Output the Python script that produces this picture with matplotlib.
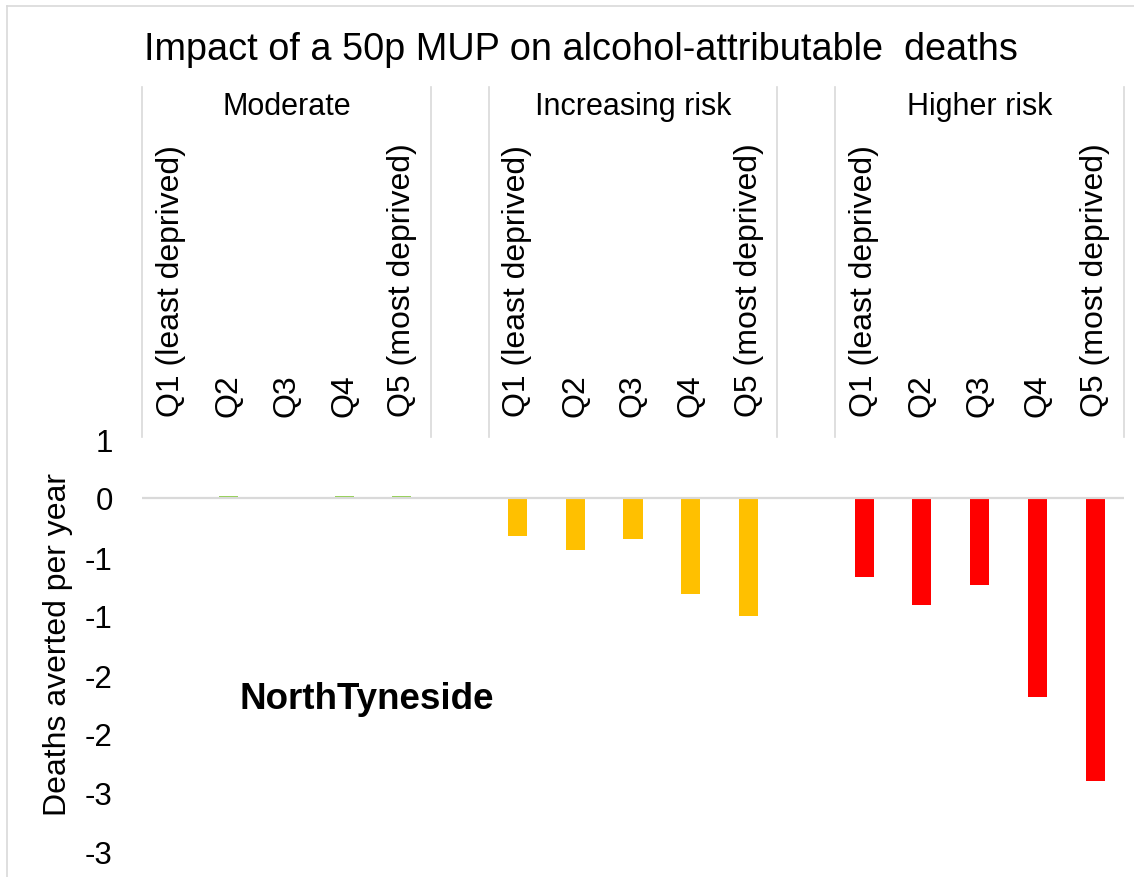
import numpy as np
import matplotlib
matplotlib.use("Agg")
import matplotlib.pyplot as plt
from matplotlib.lines import Line2D
from matplotlib.ticker import FuncFormatter
from matplotlib.transforms import blended_transform_factory

plt.rcParams['font.family'] = ['Liberation Sans', 'DejaVu Sans']

# data
groups = ["Moderate", "Increasing risk", "Higher risk"]
quintiles = ["Q1 (least deprived)", "Q2", "Q3", "Q4", "Q5 (most deprived)"]
moderate = [0.003, 0.02, 0.003, 0.02, 0.02]
increasing = [-0.32, -0.44, -0.35, -0.81, -1.00]
higher = [-0.67, -0.91, -0.74, -1.69, -2.40]
colors = ["#92D050", "#FFC000", "#FF0000"]
yticks = [0.5, 0, -0.5, -1, -1.5, -2, -2.5, -3]

W, H = 1134, 878
fig = plt.figure(figsize=(W / 100, H / 100), dpi=100)

def fx(px):
    return px / W

def fy(py):
    return 1 - py / H

# plot area
ax = fig.add_axes([fx(142), fy(853), fx(1124) - fx(142), fy(440) - fy(853)])
series = [moderate, increasing, higher]
for g, vals in enumerate(series):
    xs = np.arange(5) + g * 6
    ax.bar(xs, vals, width=0.33, color=colors[g], zorder=2)

ax.axhline(0, color="#d9d9d9", lw=1.6, zorder=3)
ax.set_xlim(-0.5, 16.5)
ax.set_ylim(-3, 0.5)
for s in ax.spines.values():
    s.set_visible(False)
ax.set_xticks([])
ax.set_yticks(yticks)
# excel style "0" format, half away from zero
ax.yaxis.set_major_formatter(FuncFormatter(lambda v, p: str(int(np.sign(v) * np.floor(abs(v) + 0.5)))))
ax.tick_params(axis='y', length=0, pad=21, labelsize=22.5)

# category labels above the plot
trans = blended_transform_factory(ax.transData, fig.transFigure)
for g in range(3):
    for q in range(5):
        ax.text(g * 6 + q, fy(417), quintiles[q], rotation=90, ha='center', va='bottom',
                fontsize=23, transform=trans, clip_on=False)
    ax.text(g * 6 + 2, fy(107), groups[g], ha='center', va='center', fontsize=22,
            transform=trans, clip_on=False)

for xb in [-0.5, 4.5, 5.5, 10.5, 11.5, 16.5]:
    ax.plot([xb, xb], [fy(88), fy(438)], color="#d9d9d9", lw=1.2, transform=trans, clip_on=False)

fig.text(fx(581), fy(50), "Impact of a 50p MUP on alcohol-attributable  deaths",
         ha='center', va='center', fontsize=27.3)
fig.text(fx(58), fy(645), "Deaths averted per year", rotation=90, ha='center', va='center', fontsize=23)
fig.text(fx(240), fy(700), "NorthTyneside", ha='left', va='center', fontsize=26.5, fontweight='bold')

# chart border
fig.add_artist(Line2D([fx(7), fx(7)], [fy(7), 0], color="#d9d9d9", lw=1.2))
fig.add_artist(Line2D([fx(7), 1], [fy(7), fy(7)], color="#d9d9d9", lw=1.2))

fig.savefig("out.png", dpi=100)
